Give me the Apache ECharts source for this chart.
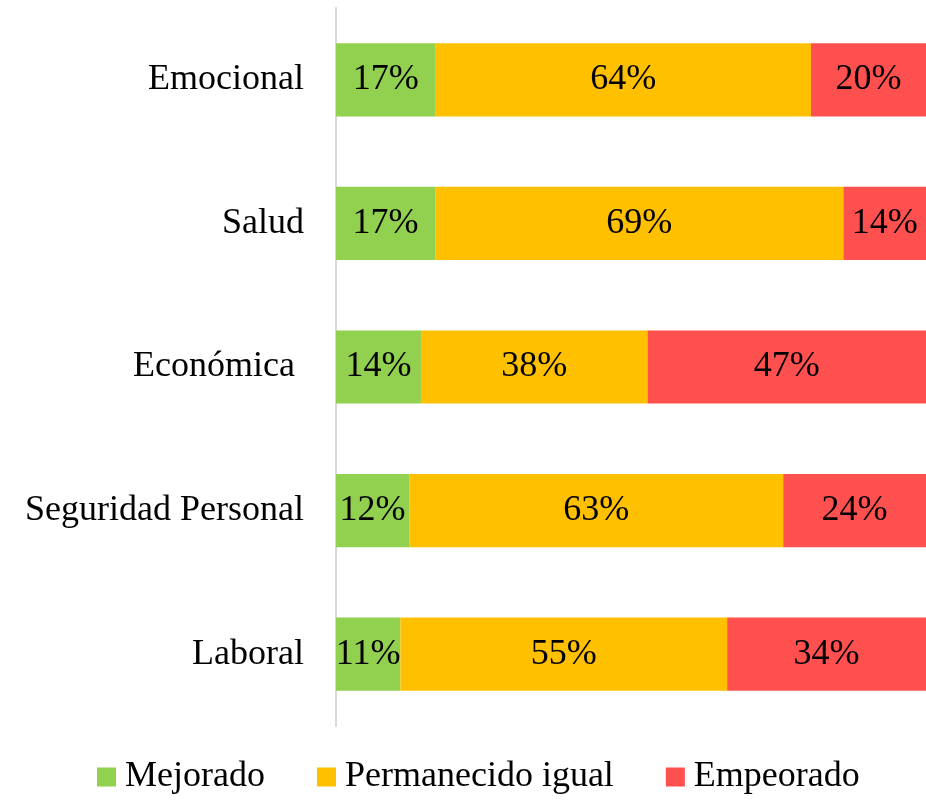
<!DOCTYPE html>
<html>
<head>
<meta charset="utf-8">
<script src="https://cdn.jsdelivr.net/npm/echarts@6/dist/echarts.min.js"></script>
<style>
  html, body { margin: 0; padding: 0; background: #fff; }
  #main { width: 926px; height: 800px; }
</style>
</head>
<body>
<div id="main"></div>
<script>
// categorias, de abajo hacia arriba (el eje Y de echarts empieza abajo)
var categorias = ['Laboral', 'Seguridad Personal', 'Económica ', 'Salud', 'Emocional'];
var mejorado = [10.9, 12.4, 14.4, 16.8, 16.9];
var igual = [55.4, 63.4, 38.4, 69.2, 63.6];
var empeorado = [33.7, 24.2, 47.2, 14.0, 19.5];

var fuente = 'Liberation Serif';
var tam = 36;

var chart = echarts.init(document.getElementById('main'));

function serie(nombre, datos, color) {
  return {
    name: nombre,
    type: 'bar',
    stack: 'total',
    barCategoryGap: '49%',
    data: datos,
    itemStyle: { color: color },
    label: {
      show: true,
      position: 'inside',
      color: '#000',
      fontFamily: fuente,
      fontSize: tam,
      formatter: function (p) {
        return Math.round(p.value) + '%';
      }
    }
  };
}

var option = {
  animation: false,
  grid: {
    left: 336,
    right: 0,
    top: 8,
    bottom: 74
  },
  xAxis: {
    type: 'value',
    min: 0,
    max: 100,
    show: false
  },
  yAxis: {
    type: 'category',
    data: categorias,
    axisLine: { lineStyle: { color: '#d9d9d9', width: 2 } },
    axisTick: { show: false },
    axisLabel: {
      color: '#000',
      fontFamily: fuente,
      fontSize: tam,
      margin: 32
    }
  },
  legend: {
    bottom: 0,
    left: 92,
    itemWidth: 19,
    itemHeight: 19,
    itemGap: 52,
    icon: 'rect',
    textStyle: { color: '#000', fontFamily: fuente, fontSize: tam, padding: [0, 0, 0, 4] },
    data: ['Mejorado', 'Permanecido igual', 'Empeorado']
  },
  series: [
    serie('Mejorado', mejorado, '#92d050'),
    serie('Permanecido igual', igual, '#ffc000'),
    serie('Empeorado', empeorado, '#ff5050')
  ]
};

chart.setOption(option);
</script>
</body>
</html>
